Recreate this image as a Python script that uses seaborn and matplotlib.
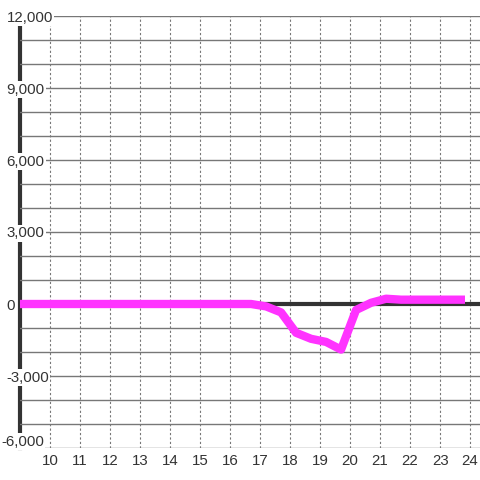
import numpy as np
import pandas as pd
import matplotlib
matplotlib.use("Agg")
import matplotlib.pyplot as plt
import seaborn as sns

# ---------------------------------------------------------------------------
# Data
# ---------------------------------------------------------------------------
hours = [9.0, 10.0, 11.0, 12.0, 13.0, 14.0, 15.0, 16.0, 16.7, 17.2, 17.7,
         18.2, 18.7, 19.2, 19.7, 20.2, 20.7, 21.2, 21.7, 22.5, 23.2, 23.83]
values = [0, 0, 0, 0, 0, 0, 0, 0, 0, -100, -350,
          -1200, -1450, -1580, -1900, -250, 50, 220, 180, 180, 180, 180]

x_ticks = list(range(10, 25))
y_ticks = [-6000, -3000, 0, 3000, 6000, 9000, 12000]
y_labels = ["-6,000", "-3,000", "0", "3,000", "6,000", "9,000", "12,000"]

df = pd.DataFrame({"hour": hours, "value": values})

# ---------------------------------------------------------------------------
# Plot
# ---------------------------------------------------------------------------
sns.set_style("white")
plt.rcParams["font.family"] = ["Liberation Sans", "DejaVu Sans"]

fig = plt.figure(figsize=(4.8, 4.8), dpi=100)
ax = fig.add_axes([20 / 480, 32 / 480, 460 / 480, 432 / 480])
ax.set_axisbelow(False)

ax.axhline(0, color="#333333", lw=3, zorder=2.6)
sns.lineplot(data=df, x="hour", y="value", ax=ax, color="#ff33ff", lw=6,
             solid_capstyle="butt", solid_joinstyle="round", zorder=3)

ax.set_xlim(9.0, 24.33)
ax.set_ylim(-6000, 12000)

ax.set_xticks(x_ticks)
ax.set_xticklabels([str(t) for t in x_ticks])
ax.set_yticks(y_ticks)
# bottom label is nudged up in the reference, so draw it separately
ax.set_yticklabels([""] + y_labels[1:])
ax.set_yticks(range(-6000, 12001, 1000), minor=True)

ax.grid(axis="y", which="both", color="#777777", lw=1, ls="-")
ax.grid(axis="x", which="major", color="#777777", lw=0.8, ls=(0, (2, 2)))

for side in ["top", "right", "bottom"]:
    ax.spines[side].set_visible(False)
ax.spines["left"].set_color("#333333")
ax.spines["left"].set_linewidth(3)
ax.spines["left"].set_zorder(2.4)

ax.tick_params(axis="both", which="both", length=0, labelsize=10.8, labelcolor="#333333")
ax.tick_params(axis="y", pad=9.8)
ax.tick_params(axis="x", pad=4)
for lbl in ax.get_yticklabels():
    lbl.set_horizontalalignment("left")
    lbl.set_bbox(dict(facecolor="white", edgecolor="none", pad=1))

ax.annotate(y_labels[0], xy=(0, y_ticks[0]), xycoords=("axes fraction", "data"),
            xytext=(-13.5, 4.5), textcoords="offset points", ha="left", va="center",
            fontsize=10.8, color="#333333", zorder=5, annotation_clip=False,
            bbox=dict(facecolor="white", edgecolor="none", pad=1))

ax.set_xlabel("")
ax.set_ylabel("")

fig.savefig("out.png", dpi=100, facecolor="white")
plt.close(fig)
